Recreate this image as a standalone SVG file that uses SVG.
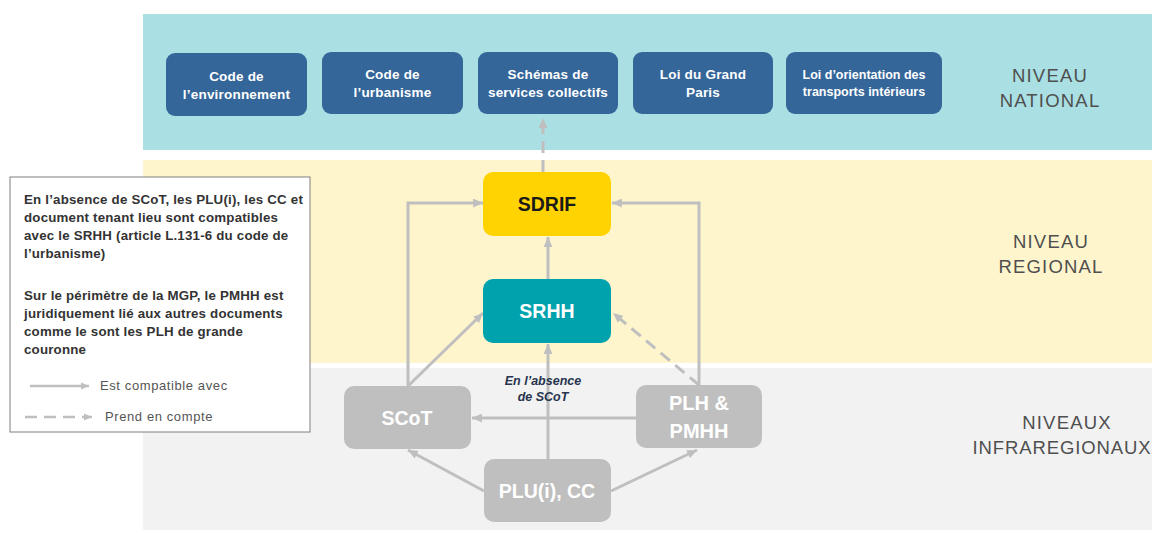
<svg xmlns="http://www.w3.org/2000/svg" width="1152" height="533" viewBox="0 0 1152 533">
<defs>
<style>
.band-n{fill:#aae0e3}
.band-r{fill:#fff5cd}
.band-i{fill:#f2f2f2}
.nat rect{fill:#346699}
.nat text{font-family:"Liberation Sans",Arial,sans-serif;font-weight:bold;font-size:13.5px;fill:#ffffff;text-anchor:middle;letter-spacing:0.2px}
.lvl{font-family:"Liberation Sans",Arial,sans-serif;font-size:18.5px;fill:#4f4f4f;text-anchor:middle;letter-spacing:1.2px}
.big{font-family:"Liberation Sans",Arial,sans-serif;font-weight:bold;font-size:19.5px;text-anchor:middle}
.gnode rect{fill:#bfbfbf}
.gnode text{fill:#ffffff}
.leg{font-family:"Liberation Sans",Arial,sans-serif;font-weight:bold;font-size:13.3px;fill:#333333;letter-spacing:0.2px}
.legs{font-family:"Liberation Sans",Arial,sans-serif;font-size:13px;fill:#555555;letter-spacing:0.6px}
.c{fill:none;stroke:#bfbfbf;stroke-width:3}
.d{stroke-dasharray:12 7}
</style>
<marker id="ah" viewBox="0 0 10 9" refX="10" refY="4.5" markerWidth="3.3" markerHeight="3" markerUnits="strokeWidth" orient="auto">
<path d="M0,0 L10,4.5 L0,9 z" fill="#bfbfbf"/>
</marker>
</defs>

<g id="bands">
<rect class="band-n" x="143" y="14" width="1009" height="136"/>
<rect class="band-r" x="143" y="160" width="1009" height="203"/>
<rect class="band-i" x="143" y="368" width="1009" height="162"/>
</g>

<g id="level-labels">
<text class="lvl" x="1050" y="82">NIVEAU</text>
<text class="lvl" x="1050" y="107">NATIONAL</text>
<text class="lvl" x="1051" y="248">NIVEAU</text>
<text class="lvl" x="1051" y="273">REGIONAL</text>
<text class="lvl" x="1067" y="429">NIVEAUX</text>
<text class="lvl" x="1062" y="454" style="letter-spacing:0.9px">INFRAREGIONAUX</text>
</g>

<g id="connectors">
<line class="c d" x1="543" y1="172" x2="543" y2="118" marker-end="url(#ah)"/>
<line class="c" x1="548" y1="279" x2="548" y2="237" marker-end="url(#ah)"/>
<polyline class="c" points="408,386 408,203 483,203" marker-end="url(#ah)"/>
<polyline class="c" points="699,385 699,203 612,203" marker-end="url(#ah)"/>
<line class="c" x1="408" y1="386" x2="483" y2="313" marker-end="url(#ah)"/>
<line class="c d" x1="699" y1="385" x2="613" y2="313" marker-end="url(#ah)"/>
<line class="c" x1="548" y1="459" x2="548" y2="344" marker-end="url(#ah)"/>
<line class="c" x1="636" y1="418" x2="472" y2="418" marker-end="url(#ah)"/>
<line class="c" x1="484" y1="491" x2="408" y2="450" marker-end="url(#ah)"/>
<line class="c" x1="611" y1="491" x2="697" y2="450" marker-end="url(#ah)"/>
</g>

<g id="n-env" class="nat">
<rect x="166" y="53" width="141" height="63" rx="9"/>
<text x="236.5" y="81">Code de</text>
<text x="236.5" y="99">l’environnement</text>
</g>
<g id="n-urb" class="nat">
<rect x="322" y="52" width="141" height="62" rx="9"/>
<text x="392.5" y="79">Code de</text>
<text x="392.5" y="97">l’urbanisme</text>
</g>
<g id="n-ssc" class="nat">
<rect x="478" y="52" width="140" height="62" rx="9"/>
<text x="548" y="79">Schémas de</text>
<text x="548" y="97">services collectifs</text>
</g>
<g id="n-lgp" class="nat">
<rect x="633" y="52" width="140" height="62" rx="9"/>
<text x="703" y="79">Loi du Grand</text>
<text x="703" y="97">Paris</text>
</g>
<g id="n-loti" class="nat">
<rect x="786" y="52" width="156" height="62" rx="9"/>
<text x="864" y="79" style="font-size:12.5px;letter-spacing:0">Loi d’orientation des</text>
<text x="864" y="96" style="font-size:12.5px;letter-spacing:0">transports intérieurs</text>
</g>

<g id="n-sdrif">
<rect x="483" y="172" width="128" height="64" rx="10" fill="#ffd300"/>
<text class="big" x="547" y="211" fill="#1a1a1a">SDRIF</text>
</g>
<g id="n-srhh">
<rect x="483" y="279" width="128" height="64" rx="10" fill="#00a3ad"/>
<text class="big" x="547" y="318" fill="#ffffff">SRHH</text>
</g>
<g id="n-scot" class="gnode">
<rect x="344" y="386" width="127" height="63" rx="10"/>
<text class="big" x="407" y="425">SCoT</text>
</g>
<g id="n-plh" class="gnode">
<rect x="636" y="385" width="126" height="63" rx="10"/>
<text class="big" x="699" y="410" style="font-size:20px">PLH &amp;</text>
<text class="big" x="699" y="438" style="font-size:20px">PMHH</text>
</g>
<g id="n-plu" class="gnode">
<rect x="484" y="459" width="127" height="63" rx="10"/>
<text class="big" x="547" y="498">PLU(i), CC</text>
</g>

<g id="label-absence">
<text x="543" y="385" style="font-family:'Liberation Sans',Arial,sans-serif;font-weight:bold;font-style:italic;font-size:12.5px;fill:#27344f;text-anchor:middle">En l’absence</text>
<text x="543" y="401" style="font-family:'Liberation Sans',Arial,sans-serif;font-weight:bold;font-style:italic;font-size:12.5px;fill:#27344f;text-anchor:middle">de SCoT</text>
</g>

<g id="legend">
<rect x="10" y="177" width="300" height="255" fill="#ffffff" stroke="#7f7f7f" stroke-width="1"/>
<text class="leg" x="24" y="204">En l’absence de SCoT, les PLU(i), les CC et</text>
<text class="leg" x="24" y="222">document tenant lieu sont compatibles</text>
<text class="leg" x="24" y="240">avec le SRHH (article L.131-6 du code de</text>
<text class="leg" x="24" y="258">l’urbanisme)</text>
<text class="leg" x="24" y="300">Sur le périmètre de la MGP, le PMHH est</text>
<text class="leg" x="24" y="318">juridiquement lié aux autres documents</text>
<text class="leg" x="24" y="336">comme le sont les PLH de grande</text>
<text class="leg" x="24" y="354">couronne</text>
<line x1="30" y1="386" x2="89" y2="386" stroke="#bfbfbf" stroke-width="2.5" marker-end="url(#ah)"/>
<text class="legs" x="100" y="390">Est compatible avec</text>
<line x1="25" y1="417" x2="92" y2="417" stroke="#bfbfbf" stroke-width="2.5" stroke-dasharray="12 7" marker-end="url(#ah)"/>
<text class="legs" x="105" y="421">Prend en compte</text>
</g>
</svg>
